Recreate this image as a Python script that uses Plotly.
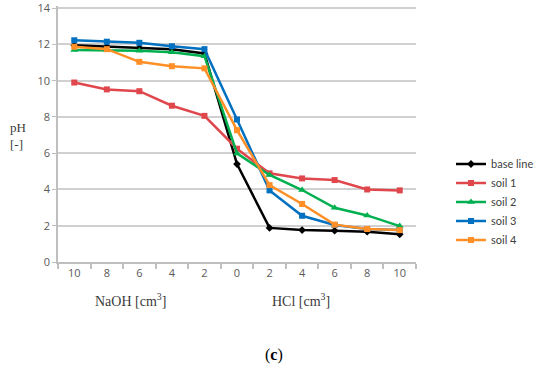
import plotly.graph_objects as go

categories = ["10", "8", "6", "4", "2", "0", "2", "4", "6", "8", "10"]
base_line = [11.95, 11.87, 11.81, 11.74, 11.5, 5.4, 1.88, 1.76, 1.73, 1.67, 1.53]
soil_1 = [9.9, 9.52, 9.42, 8.62, 8.06, 6.25, 4.89, 4.61, 4.52, 4.0, 3.95]
soil_2 = [11.69, 11.69, 11.65, 11.57, 11.35, 5.99, 4.8, 3.97, 2.99, 2.57, 1.98]
soil_3 = [12.23, 12.15, 12.09, 11.9, 11.74, 7.86, 3.95, 2.55, 2.04, 1.82, 1.76]
soil_4 = [11.87, 11.74, 11.04, 10.8, 10.68, 7.27, 4.24, 3.2, 2.06, 1.82, 1.76]

series = [
    ("base line", base_line, "#000000", "diamond", 6),
    ("soil 1", soil_1, "#E0474C", "square", 6),
    ("soil 2", soil_2, "#00B050", "triangle-up", 7),
    ("soil 3", soil_3, "#0070C0", "square", 6),
    ("soil 4", soil_4, "#FF8F26", "square", 6),
]

xs = list(range(len(categories)))
fig = go.Figure()
for name, vals, col, sym, sz in series:
    fig.add_trace(go.Scatter(
        x=xs, y=vals, name=name, mode="lines+markers",
        line=dict(color=col, width=2.5),
        marker=dict(symbol=sym, size=sz, color=col),
    ))

tick_font = dict(family="Open Sans, DejaVu Sans, sans-serif", size=11, color="#595959")
serif = "Liberation Serif, Times New Roman, serif"

L, R, T, B = 58, 134, 6, 110
W, H = 550, 372
px_w, px_h = W - L - R, H - T - B


def px(xp, yp):
    return (xp - L) / px_w, (H - B - yp) / px_h


def ann(text, xp, yp, size, color="#3a3a3a", align="center"):
    ax, ay = px(xp, yp)
    return dict(text=text, x=ax, y=ay, xref="paper", yref="paper", showarrow=False,
                xanchor="center", yanchor="middle", align=align,
                font=dict(family=serif, size=size, color=color))


anns = [
    ann("pH<br>[-]", 18, 136, 13, align="left"),
    ann("NaOH [cm<sup>3</sup>]", 130, 300, 14),
    ann("HCl [cm<sup>3</sup>]", 301, 300, 14),
    ann("(<b>c</b>)", 274, 355, 16, color="#000000"),
]

fig.update_layout(
    width=W, height=H,
    margin=dict(l=L, r=R, t=T, b=B, autoexpand=False),
    paper_bgcolor="white", plot_bgcolor="white",
    showlegend=True,
    legend=dict(xref="container", yref="container", x=451 / W, y=(H - 202) / H,
                xanchor="left", yanchor="middle",
                font=dict(family="Lato, Open Sans, sans-serif", size=11, color="#404040"),
                itemwidth=30, tracegroupgap=0, bgcolor="rgba(0,0,0,0)"),
    xaxis=dict(
        range=[-0.5, 10.5], tickvals=xs, ticktext=categories, ticks="",
        tickfont=tick_font, showgrid=False, zeroline=False, automargin=False,
        showline=True, linecolor="#bfbfbf", linewidth=1.5,
        minor=dict(tickvals=[i - 0.5 for i in range(12)], ticks="outside",
                   ticklen=5, tickcolor="#bfbfbf", tickwidth=1.5, showgrid=False),
    ),
    yaxis=dict(
        range=[0, 14.12], tickvals=[0, 2, 4, 6, 8, 10, 12, 14], tickfont=tick_font,
        ticklabeloverflow="allow",
        showgrid=True, gridcolor="#d0d0d0", gridwidth=1.5, zeroline=False, automargin=False,
        showline=True, linecolor="#bfbfbf", linewidth=1.5,
        ticks="outside", ticklen=4, tickcolor="#bfbfbf",
    ),
    annotations=anns,
)

fig.write_html("out.html", config={"displayModeBar": False},
               post_script="document.body.style.margin='0';document.body.style.padding='0';")
